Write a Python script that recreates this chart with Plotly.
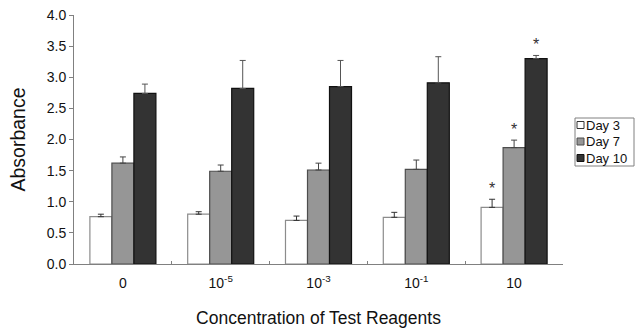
import plotly.graph_objects as go

categories = ["0", "10<sup>-5</sup>", "10<sup>-3</sup>", "10<sup>-1</sup>", "10"]
series_names = ["Day 3", "Day 7", "Day 10"]
day3 = [0.76, 0.80, 0.70, 0.75, 0.91]
day3_err = [0.04, 0.04, 0.07, 0.08, 0.13]
day7 = [1.62, 1.49, 1.51, 1.52, 1.87]
day7_err = [0.10, 0.10, 0.11, 0.15, 0.12]
day10 = [2.74, 2.82, 2.85, 2.91, 3.30]
day10_err = [0.15, 0.45, 0.42, 0.42, 0.05]
y_ticks = [0.0, 0.5, 1.0, 1.5, 2.0, 2.5, 3.0, 3.5, 4.0]
sig_category = "10"

FONT = "Liberation Sans, Arial, sans-serif"
fills = ["#ffffff", "#969696", "#333333"]
outlines = ["#8c8c8c", "#4d4d4d", "#111111"]
errcol = ["#333333", "#444444", "#555555"]

W, H = 638, 328
ML, MR, MT, MB = 74, 75, 15, 64
PW, PH = W - ML - MR, H - MT - MB


def px_x(p):
    return (p - ML) / PW


def px_y(p):
    return (H - MB - p) / PH


fig = go.Figure()
all_vals = [day3, day7, day10]
all_err = [day3_err, day7_err, day10_err]
for name, vals, errs, fc, oc, ec in zip(series_names, all_vals, all_err, fills, outlines, errcol):
    fig.add_trace(go.Bar(
        x=categories, y=vals, name=name, showlegend=False, hoverinfo="skip",
        marker=dict(color=fc, line=dict(color=oc, width=1.2)),
        error_y=dict(type="data", array=errs, arrayminus=[0] * len(errs), symmetric=False,
                     color=ec, thickness=1, width=3),
    ))

idx = categories.index(sig_category)
shifts = [-22, 0, 22]
for k in range(3):
    fig.add_annotation(
        x=idx, y=all_vals[k][idx] + all_err[k][idx],
        xref="x", yref="y",
        text="*", showarrow=False, xshift=shifts[k], yshift=0,
        yanchor="bottom", font=dict(family=FONT, size=16, color="#333333"),
    )

# custom legend (Excel style, compact)
fig.add_shape(type="rect", xref="paper", yref="paper",
              x0=px_x(575), x1=px_x(634), y0=px_y(166), y1=px_y(118),
              line=dict(color="#808080", width=1), fillcolor="white")
rows = [125, 141.5, 158]
for name, fc, oc, ry in zip(series_names, fills, outlines, rows):
    fig.add_shape(type="rect", xref="paper", yref="paper",
                  x0=px_x(577), x1=px_x(584), y0=px_y(ry + 3.5), y1=px_y(ry - 3.5),
                  line=dict(color="#333333" if fc == "#ffffff" else oc, width=1), fillcolor=fc)
    fig.add_annotation(x=px_x(585), y=px_y(ry), xref="paper", yref="paper",
                       text=name, showarrow=False, xanchor="left", yanchor="middle",
                       borderpad=0, font=dict(family=FONT, size=13, color="#111111"))

fig.update_layout(
    width=W, height=H,
    margin=dict(l=ML, r=MR, t=MT, b=MB, autoexpand=False),
    paper_bgcolor="white", plot_bgcolor="white",
    barmode="group", bargap=0.325, bargroupgap=0,
    font=dict(family=FONT, color="#111111"),
    showlegend=False,
    xaxis=dict(
        automargin=False,
        showline=True, linecolor="#808080", linewidth=1,
        ticks="inside", tickson="boundaries", ticklen=3, tickcolor="#808080",
        ticklabelstandoff=6,
        tickfont=dict(family=FONT, size=14, color="#111111"),
        title=dict(text="Concentration of Test Reagents", font=dict(family=FONT, size=17.5, color="#111111"), standoff=21),
        range=[-0.5, 4.5],
    ),
    yaxis=dict(
        automargin=False,
        range=[0, 4.0], tickvals=y_ticks, tickformat=".1f",
        showline=True, linecolor="#808080", linewidth=1,
        ticks="outside", ticklen=4, tickcolor="#808080",
        showgrid=False, zeroline=False,
        tickfont=dict(family=FONT, size=14, color="#111111"),
        title=dict(text="Absorbance", font=dict(family=FONT, size=19.5, color="#111111"), standoff=15),
    ),
)

fig.write_html("out.html", config={"displayModeBar": False},
               post_script="document.body.style.margin='0';document.body.style.overflow='hidden';")
